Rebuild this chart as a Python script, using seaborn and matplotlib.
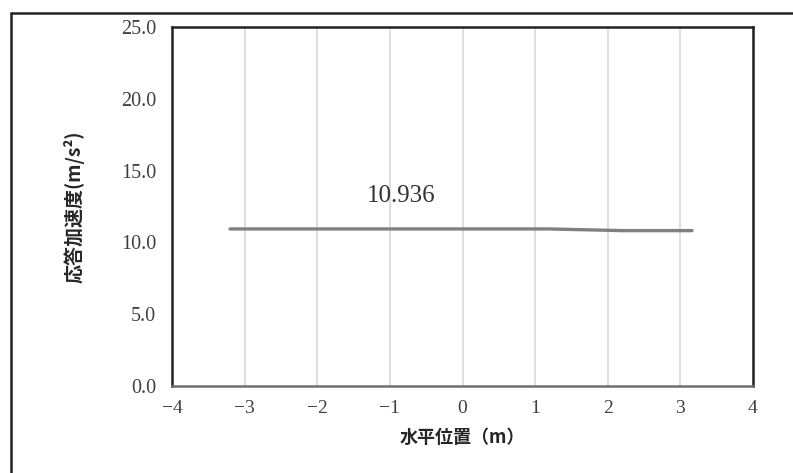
import matplotlib
matplotlib.use("Agg")
import matplotlib.pyplot as plt
from matplotlib.lines import Line2D
import seaborn as sns
import pandas as pd

# data
x_pos = [-3.2, -2.2, -1.2, 0.0, 1.2, 2.2, 3.16]
accel = [10.936, 10.936, 10.936, 10.936, 10.936, 10.82, 10.82]
label_text = "10.936"
x_ticks = [-4, -3, -2, -1, 0, 1, 2, 3, 4]
y_ticks = [0.0, 5.0, 10.0, 15.0, 20.0, 25.0]
x_label = "水平位置（m）"
y_label = "応答加速度(m/s²)"

sns.set_theme(style="white")
plt.rcParams['font.family'] = ['Noto Sans CJK JP', 'DejaVu Sans']

fig = plt.figure(figsize=(7.93, 4.73), dpi=100)
ax = fig.add_axes([172/793, 87/473, (753-172)/793, (386-27)/473])

df = pd.DataFrame({"x": x_pos, "y": accel})
sns.lineplot(data=df, x="x", y="y", ax=ax, color="#808080", linewidth=2.4,
             sort=False, estimator=None)

ax.set_xlim(-4, 4)
ax.set_ylim(0, 25)
ax.set_xticks(x_ticks)
ax.set_yticks(y_ticks)
serif = ['Liberation Serif', 'DejaVu Serif']
ax.set_xticklabels([str(t).replace("-", "\u2212") for t in x_ticks],
                   family=serif, fontsize=14, color="#404040")
ax.set_yticklabels([f"{t:.1f}" for t in y_ticks],
                   family=serif, fontsize=14.5, color="#404040")
ax.tick_params(axis='both', length=0)
ax.tick_params(axis='x', pad=10)
ax.tick_params(axis='y', pad=11.5)

ax.xaxis.grid(True, color="#d9d9d9", linewidth=1.2)
ax.yaxis.grid(False)
ax.set_axisbelow(True)

for s in ["left", "top", "right"]:
    ax.spines[s].set_color("#222222")
    ax.spines[s].set_linewidth(1.8)
ax.spines["bottom"].set_color("#6e6e6e")
ax.spines["bottom"].set_linewidth(1.8)

ax.set_xlabel(x_label, fontsize=13, fontweight="bold", ha="center", va="center")
ax.set_ylabel(y_label, fontsize=13.7, fontweight="bold", ha="center", va="center")
ax.xaxis.set_label_coords(0.5, -0.142)
ax.yaxis.set_label_coords(-0.169, 0.499)

ax.text(-0.85, 13.2, label_text, ha="center", va="center",
        family=serif, fontsize=18, color="#333333")

# outer frame
fig.add_artist(Line2D([11/793, 11/793], [0, 1 - 13/473], transform=fig.transFigure,
                      color="#222222", linewidth=1.8))
fig.add_artist(Line2D([11/793, 1], [1 - 13/473, 1 - 13/473], transform=fig.transFigure,
                      color="#222222", linewidth=1.8))

fig.savefig("out.png", dpi=100)
